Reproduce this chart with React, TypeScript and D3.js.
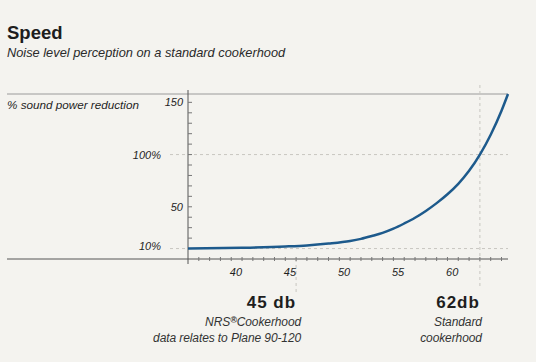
import React from 'react';
import * as d3 from 'd3';

// curve: noise level (db) -> % sound power reduction
const dbLevels = [35, 40, 44, 46, 48, 50, 51, 52, 53, 54, 55, 56, 57, 58, 59, 60, 61, 62, 63, 64, 64.6];
const reduction = [10, 10.8, 12, 13, 14.8, 17.3, 19.3, 22, 25, 29, 34, 39.5, 46, 53.5, 62, 72, 84.5, 100, 119, 142, 158];

const xTickValues = [40, 45, 50, 55, 60];
const xMinorTicks = d3.range(36, 65, 1);
const yTickValues = [150, 100, 50, 10];
const yTickLabels = ['150', '100%', '50', '10%'];
const yMinorTicks = d3.range(10, 160, 10);
const gridValues = [100, 10];

const markers = [
  { db: 45, label: '45 db', lines: ['NRS', 'data relates to Plane 90-120'] },
  { db: 62, label: '62db', lines: ['Standard', 'cookerhood'] },
];

const W = 536;
const H = 362;
const BG = '#f4f3ef';
const INK = '#1e1e1e';
const FONT = '"Liberation Sans", Arial, sans-serif';

const App = () => {
  const x = d3.scaleLinear().domain([35, 64.6]).range([188, 508]);
  const y = d3.scaleLinear().domain([0, 158]).range([259, 94]);

  const points = dbLevels.map((d, i) => [d, reduction[i]] as [number, number]);
  const line = d3.line<[number, number]>()
    .x(d => x(d[0]))
    .y(d => y(d[1]))
    .curve(d3.curveMonotoneX);

  const noteDx = [5, 2];

  return (
    <div style={{ position: 'fixed', left: 0, top: 0, width: W, height: H, background: BG }}>
      <svg width={W} height={H} style={{ display: 'block', fontFamily: FONT }}>
        <rect width={W} height={H} fill={BG} />

        {/* Title */}
        <text x={7} y={39} fontSize={18.5} fontWeight="bold" fill={INK}>Speed</text>
        <text x={7} y={57} fontSize={12.8} fontStyle="italic" fill="#2a2a2a">
          Noise level perception on a standard cookerhood
        </text>

        {/* frame lines */}
        <line x1={7} x2={508} y1={y(158)} y2={y(158)} stroke="#9a9a9a" strokeWidth={1} />
        <line x1={7} x2={508} y1={y(0)} y2={y(0)} stroke="#555" strokeWidth={1} />
        <text x={7} y={109} fontSize={11.7} fontStyle="italic" fill={INK}>
          % sound power reduction
        </text>

        {/* dashed grid */}
        {gridValues.map(v => (
          <line key={v} x1={170} x2={508} y1={y(v)} y2={y(v)}
            stroke="#c8c6c0" strokeWidth={1} strokeDasharray="3 3" />
        ))}
        <line x1={x(45)} x2={x(45)} y1={y(0)} y2={292} stroke="#c8c6c0" strokeWidth={1} strokeDasharray="3 3" />
        <line x1={x(62)} x2={x(62)} y1={85} y2={287} stroke="#c8c6c0" strokeWidth={1} strokeDasharray="3 3" />

        {/* y axis */}
        <line x1={188} x2={188} y1={90} y2={264} stroke="#555" strokeWidth={1} />
        {yMinorTicks.map(v => (
          <line key={v} x1={188} x2={192} y1={y(v)} y2={y(v)} stroke="#777" strokeWidth={1} />
        ))}
        {yTickValues.map((v, i) => (
          <text key={v} x={yTickLabels[i].includes('%') ? 161 : 183} y={v === 10 ? y(v) + 1 : y(v) + 4}
            textAnchor="end" fontSize={11} fontStyle="italic" fill={INK}>
            {yTickLabels[i]}
          </text>
        ))}

        {/* x axis ticks */}
        {xMinorTicks.map(v => (
          <line key={v} x1={x(v)} x2={x(v)} y1={y(0) - 2} y2={y(0) + 2} stroke="#777" strokeWidth={1} />
        ))}
        {xTickValues.map(v => (
          <text key={v} x={x(v)} y={276} textAnchor="end" fontSize={11} fontStyle="italic" fill={INK}>
            {v}
          </text>
        ))}

        {/* curve */}
        <path d={line(points) || ''} fill="none" stroke="#1d5a8c" strokeWidth={2.5} />

        {/* markers */}
        {markers.map((m, mi) => (
          <g key={m.db}>
            <text x={x(m.db)} y={308} textAnchor="end" fontSize={17} fontWeight="bold"
              fill={INK} letterSpacing={1}>
              {m.label}
            </text>
            {m.lines.map((t, i) => (
              <text key={i} x={x(m.db) + noteDx[mi]} y={326 + i * 16} textAnchor="end" fontSize={12}
                fontStyle="italic" fill="#333" letterSpacing={-0.1}>
                {t === 'NRS'
                  ? <>NRS<tspan fontSize={9} fontWeight="bold" dy={-3}>{'\u00AE'}</tspan><tspan dy={3}>Cookerhood</tspan></>
                  : t}
              </text>
            ))}
          </g>
        ))}
      </svg>
    </div>
  );
};

export default App;
